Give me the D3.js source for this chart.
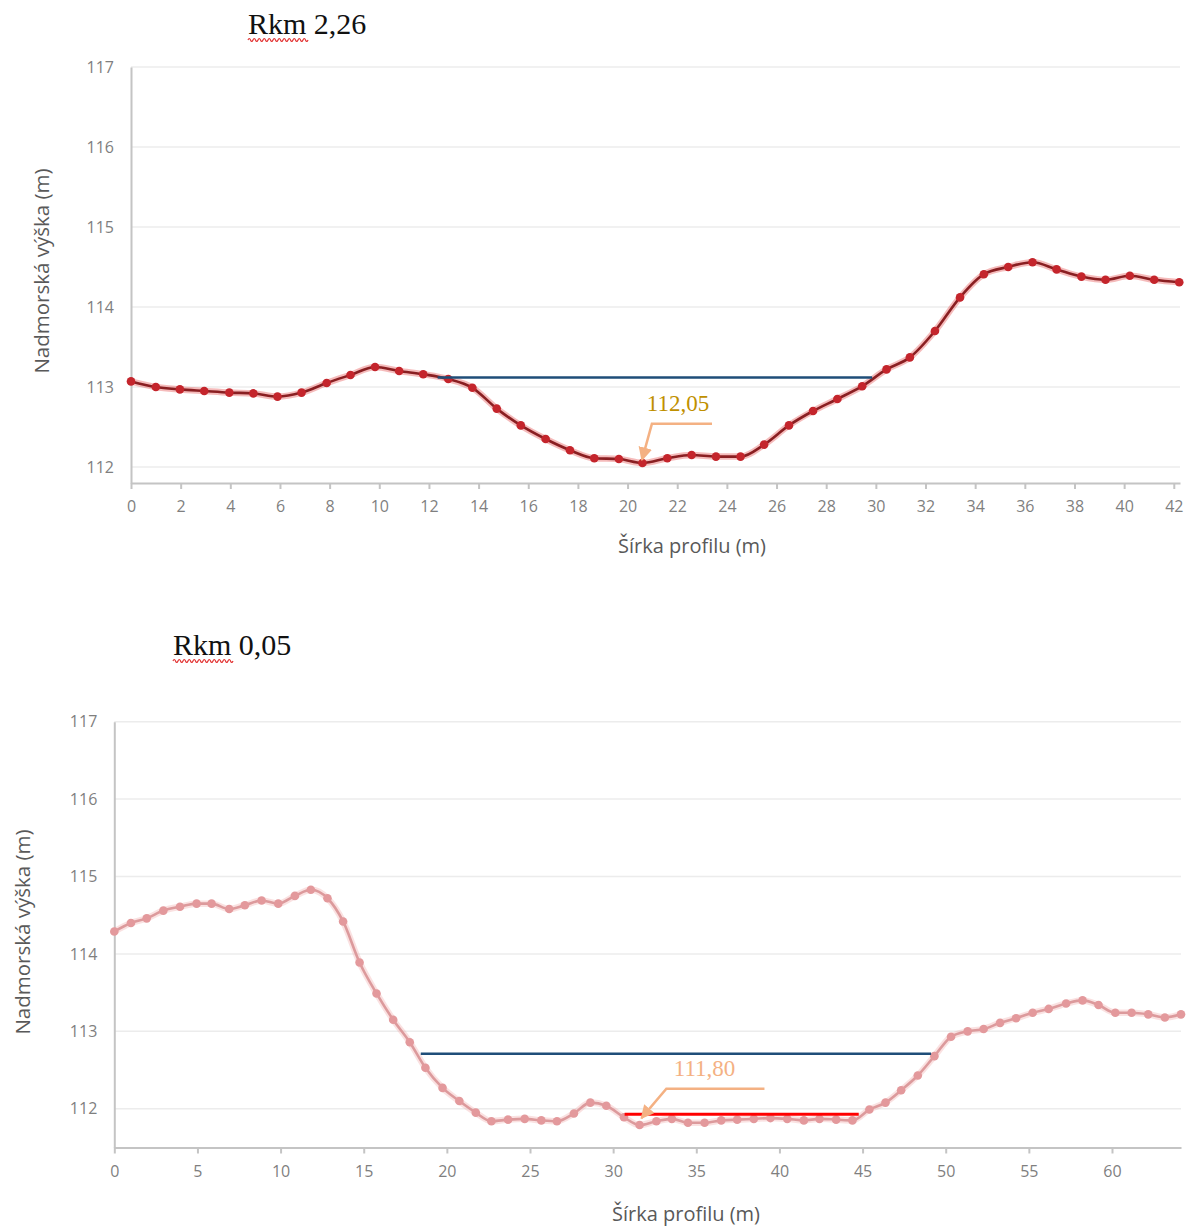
<!DOCTYPE html>
<html><head><meta charset="utf-8">
<script src="https://cdn.jsdelivr.net/npm/d3@7"></script>
<style>html,body{margin:0;padding:0;background:#fff;}svg{display:block;}</style>
</head><body>
<svg id="c" width="1200" height="1228"></svg>
<script>
// ---- Data: Rkm 2,26 ----
const topX = [0,1.0,1.97,2.95,3.96,4.93,5.9,6.87,7.88,8.84,9.83,10.8,11.77,12.78,13.75,14.73,15.7,16.7,17.68,18.66,19.65,20.6,21.6,22.58,23.56,24.55,25.5,26.5,27.47,28.45,29.45,30.43,31.37,32.38,33.39,34.35,35.33,36.31,37.28,38.28,39.25,40.23,41.21,42.22];
const topY = [113.07,113.0,112.97,112.95,112.93,112.92,112.88,112.93,113.05,113.15,113.25,113.2,113.16,113.1,112.99,112.73,112.52,112.35,112.21,112.11,112.1,112.05,112.11,112.15,112.13,112.13,112.28,112.52,112.7,112.85,113.01,113.22,113.37,113.7,114.12,114.41,114.5,114.56,114.47,114.38,114.34,114.39,114.34,114.31];
const topXTicks = [0,2,4,6,8,10,12,14,16,18,20,22,24,26,28,30,32,34,36,38,40,42];
const topYTicks = [112,113,114,115,116,117];
const topWater = [12.35, 29.85, 113.12];       // x from, x to, level
const topNote = ["112,05", 22.03, 112.79];      // text, x, y
const topArrow = [[23.4,112.54],[20.98,112.54],[20.58,112.09]];

// ---- Data: Rkm 0,05 ----
const botX = [0,1.0,1.95,2.95,3.95,4.95,5.85,6.91,7.85,8.86,9.86,10.86,11.82,12.82,13.76,14.75,15.77,16.77,17.77,18.71,19.74,20.75,21.74,22.68,23.68,24.68,25.68,26.62,27.64,28.63,29.59,30.65,31.59,32.6,33.53,34.5,35.5,36.5,37.46,38.46,39.46,40.47,41.47,42.41,43.41,44.39,45.41,46.38,47.32,48.32,49.32,50.32,51.32,52.28,53.27,54.23,55.23,56.19,57.24,58.23,59.19,60.2,61.18,62.18,63.18,64.15];
const botY = [114.29,114.40,114.46,114.56,114.61,114.65,114.65,114.58,114.63,114.69,114.65,114.75,114.83,114.72,114.42,113.89,113.49,113.15,112.86,112.53,112.27,112.1,111.95,111.84,111.86,111.87,111.85,111.84,111.94,112.08,112.04,111.89,111.79,111.84,111.87,111.82,111.82,111.85,111.86,111.87,111.88,111.87,111.85,111.87,111.86,111.85,111.99,112.08,112.24,112.43,112.68,112.93,113.0,113.03,113.11,113.17,113.24,113.29,113.36,113.40,113.34,113.24,113.24,113.22,113.18,113.22];
const botXTicks = [0,5,10,15,20,25,30,35,40,45,50,55,60];
const botYTicks = [112,113,114,115,116,117];
const botWater = [18.43, 49.12, 112.71];
const botRed = [30.69, 44.77, 111.93];
const botNote = ["111,80", 35.5, 112.52];
const botArrow = [[39.1,112.26],[33.2,112.26],[31.7,111.88]];

const titles = ["Rkm 2,26", "Rkm 0,05"];
const xTitle = "Šírka profilu (m)";
const yTitle = "Nadmorská výška (m)";

const svg = d3.select("#c");
const defs = svg.append("defs");
defs.append("marker").attr("id","ah").attr("viewBox","0 0 10 10")
  .attr("refX",9).attr("refY",5).attr("markerWidth",5.5).attr("markerHeight",5.5)
  .attr("markerUnits","strokeWidth").attr("orient","auto")
  .append("path").attr("d","M0,0 L10,5 L0,10 z").attr("fill","#f4b183");

function wavy(g, x0, x1, y) {
  let d = `M${x0},${y}`;
  for (let x = x0; x + 5 <= x1; x += 5) {
    d += ` Q${x+1.25},${y-3} ${x+2.5},${y} Q${x+3.75},${y+3} ${x+5},${y}`;
  }
  g.append("path").attr("d", d).attr("fill","none").attr("stroke","#e23030").attr("stroke-width",1.2);
}

function chart(cfg) {
  const g = svg.append("g");
  const x = d3.scaleLinear().domain(cfg.xDom).range(cfg.xRange);
  const y = d3.scaleLinear().domain(cfg.yDom).range(cfg.yRange);

  // title
  g.append("text").attr("x", cfg.titleX).attr("y", cfg.titleY)
    .attr("font-family","'Liberation Serif','Times New Roman',serif").attr("font-size",30)
    .attr("fill","#111").text(cfg.title);
  wavy(g, cfg.titleX, cfg.titleX + 60, cfg.titleY + 6);

  // gridlines
  g.append("g").selectAll("line").data(cfg.yTicks).join("line")
    .attr("x1", cfg.xRange[0]).attr("x2", cfg.xRange[1])
    .attr("y1", d => y(d)).attr("y2", d => y(d))
    .attr("stroke","#ececec").attr("stroke-width",1.5);

  // y axis
  const ya = g.append("g").attr("transform",`translate(${cfg.xRange[0]},0)`)
    .call(d3.axisLeft(y).tickValues(cfg.yTicks).tickFormat(d3.format("d")).tickSize(0).tickPadding(17));
  ya.select(".domain").attr("stroke","#c4c4c4").attr("stroke-width",2);
  ya.selectAll("text").attr("font-family","'Open Sans',sans-serif").attr("font-size",16).attr("fill","#7f7f7f");

  // x axis
  const xa = g.append("g").attr("transform",`translate(0,${cfg.yRange[0]})`)
    .call(d3.axisBottom(x).tickValues(cfg.xTicks).tickSize(6).tickSizeOuter(0).tickPadding(12));
  xa.select(".domain").attr("stroke","#c4c4c4").attr("stroke-width",2);
  xa.selectAll(".tick line").attr("stroke","#c4c4c4").attr("stroke-width",2);
  xa.selectAll("text").attr("font-family","'Open Sans',sans-serif").attr("font-size",16).attr("fill","#7f7f7f");

  // axis titles
  g.append("text").attr("x", cfg.xTitlePos[0]).attr("y", cfg.xTitlePos[1])
    .attr("text-anchor","middle").attr("font-family","'Open Sans',sans-serif").attr("font-size",20)
    .attr("fill","#595959").text(xTitle);
  g.append("text").attr("transform",`translate(${cfg.yTitlePos[0]},${cfg.yTitlePos[1]}) rotate(-90)`)
    .attr("text-anchor","middle").attr("font-family","'Open Sans',sans-serif").attr("font-size",20.5)
    .attr("fill","#595959").text(yTitle);

  const pts = cfg.xs.map((v,i) => [v, cfg.ys[i]]);
  const line = d3.line().x(d => x(d[0])).y(d => y(d[1])).curve(d3.curveMonotoneX);

  // series halo + line
  g.append("path").datum(pts).attr("d", line).attr("fill","none")
    .attr("stroke", cfg.halo).attr("stroke-width", 6.5).attr("stroke-linejoin","round");
  g.append("path").datum(pts).attr("d", line).attr("fill","none")
    .attr("stroke", cfg.lineColor).attr("stroke-width", 2.6).attr("stroke-linejoin","round");
  g.append("g").selectAll("circle").data(pts).join("circle")
    .attr("cx", d => x(d[0])).attr("cy", d => y(d[1])).attr("r", 4.3)
    .attr("fill", cfg.markColor);

  // water level
  g.append("line").attr("x1", x(cfg.water[0])).attr("x2", x(cfg.water[1]))
    .attr("y1", y(cfg.water[2])).attr("y2", y(cfg.water[2]))
    .attr("stroke","#1f4e79").attr("stroke-width",2.5);
  if (cfg.red) {
    g.append("line").attr("x1", x(cfg.red[0])).attr("x2", x(cfg.red[1]))
      .attr("y1", y(cfg.red[2])).attr("y2", y(cfg.red[2]))
      .attr("stroke","#ff0000").attr("stroke-width",3);
  }

  // annotation
  g.append("text").attr("x", x(cfg.note[1])).attr("y", y(cfg.note[2]))
    .attr("text-anchor","middle").attr("dominant-baseline","central")
    .attr("font-family","'Liberation Serif','Times New Roman',serif").attr("font-size",23)
    .attr("fill", cfg.noteColor).text(cfg.note[0]);
  g.append("path").datum(cfg.arrow)
    .attr("d", d3.line().x(d => x(d[0])).y(d => y(d[1])))
    .attr("fill","none").attr("stroke","#f4b183").attr("stroke-width",2.5)
    .attr("marker-end","url(#ah)");
}

chart({
  title: titles[0], titleX: 248, titleY: 34,
  xs: topX, ys: topY, xDom: [0, 42.25], xRange: [131, 1180], yDom: [111.8, 117], yRange: [483, 67],
  xTicks: topXTicks, yTicks: topYTicks,
  xTitlePos: [692, 553], yTitlePos: [49, 271],
  lineColor: "#8a1f22", halo: "rgba(225,60,60,0.35)", markColor: "#c4252c",
  water: topWater, note: topNote, noteColor: "#bf9000", arrow: topArrow
});
chart({
  title: titles[1], titleX: 173, titleY: 655,
  xs: botX, ys: botY, xDom: [0, 64.15], xRange: [114.3, 1181], yDom: [111.5, 117], yRange: [1147.5, 721.7],
  xTicks: botXTicks, yTicks: botYTicks,
  xTitlePos: [686, 1221], yTitlePos: [30, 932],
  lineColor: "#dc9a9c", halo: "rgba(240,170,170,0.35)", markColor: "#e3999c",
  water: botWater, red: botRed, note: botNote, noteColor: "#f4b183", arrow: botArrow
});
</script>
</body></html>
